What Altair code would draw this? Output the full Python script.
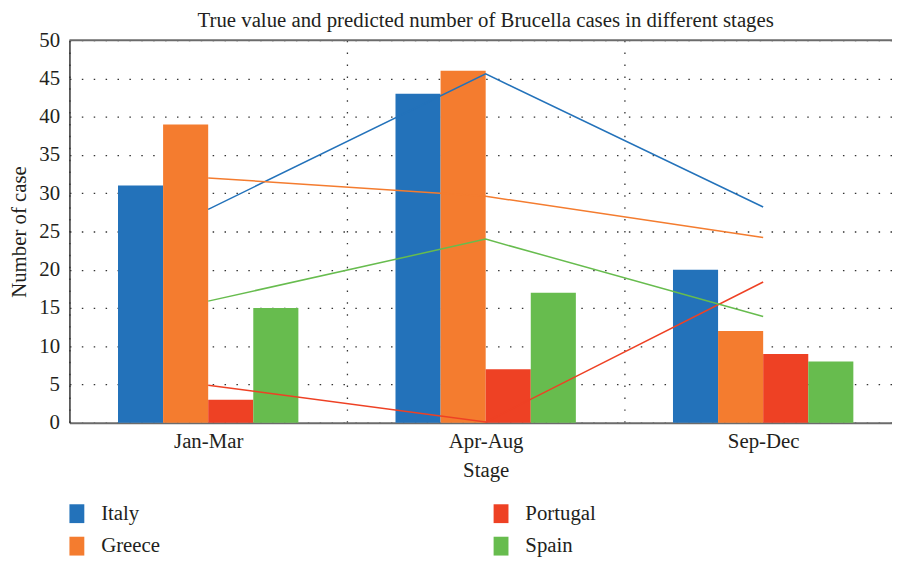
import altair as alt
import pandas as pd

stages = ["Jan-Mar", "Apr-Aug", "Sep-Dec"]
countries = ["Italy", "Greece", "Portugal", "Spain"]
colors = {"Italy": "#2372BA", "Greece": "#F47C2F", "Portugal": "#EE4124", "Spain": "#67BC4E"}

true_italy = [31, 43, 20]
true_greece = [39, 46, 12]
true_portugal = [3, 7, 9]
true_spain = [15, 17, 8]

pred_italy = [27.9, 45.6, 28.2]
pred_greece = [32.0, 29.6, 24.2]
pred_portugal = [4.9, 0.1, 18.4]
pred_spain = [15.9, 24.0, 13.9]

y_ticks = [0, 5, 10, 15, 20, 25, 30, 35, 40, 45, 50]

true_vals = {"Italy": true_italy, "Greece": true_greece, "Portugal": true_portugal, "Spain": true_spain}
pred_vals = {"Italy": pred_italy, "Greece": pred_greece, "Portugal": pred_portugal, "Spain": pred_spain}

rows = []
for c in countries:
    for i, s in enumerate(stages):
        rows.append({"stage": s, "country": c, "true": true_vals[c][i], "pred": pred_vals[c][i]})
df = pd.DataFrame(rows)

FONT = "Liberation Serif"
TXT = "#231F20"
FS = 21

x_enc = alt.X(
    "stage:N", sort=stages, title="Stage",
    scale=alt.Scale(range=[0, 840], paddingInner=0, paddingOuter=0),
    axis=alt.Axis(
        grid=True, tickBand="extent", gridDash=[1.5, 10.5], gridColor="#333", gridWidth=1.3,
        ticks=False, domainColor="#6b6b6b", domainWidth=2, labelAngle=0,
        labelFont=FONT, labelFontSize=FS, labelColor=TXT, labelPadding=8,
        titleFont=FONT, titleFontSize=FS, titleFontWeight="normal", titleColor=TXT, titlePadding=8,
    ),
)
y_scale = alt.Scale(domain=[0, 50], nice=False)
y_axis = alt.Axis(
    values=y_ticks, grid=True, gridDash=[1.5, 10.5], labelOverlap=False,
    gridColor="#333", gridWidth=1.3, ticks=False, domainColor="#333", domainWidth=1.5,
    labelFont=FONT, labelFontSize=FS, labelColor=TXT, labelPadding=10,
    titleFont=FONT, titleFontSize=FS, titleFontWeight="normal", titleColor=TXT, titlePadding=9,
)
color_scale = alt.Scale(domain=countries, range=[colors[c] for c in countries])

bars = alt.Chart(df).mark_bar().encode(
    x=x_enc,
    xOffset=alt.XOffset("country:N", sort=countries, scale=alt.Scale(range=[49, 231], paddingInner=0, paddingOuter=0)),
    y=alt.Y("true:Q", scale=y_scale, axis=y_axis, title="Number of case"),
    color=alt.Color(
        "country:N", scale=color_scale,
        legend=alt.Legend(
            title=None, orient="none", legendX=-3, legendY=467, columns=2, columnPadding=333,
            rowPadding=11, symbolType="M-0.79,-1H0.79V1H-0.79Z", symbolSize=361,
            symbolStrokeWidth=0, symbolOpacity=1, labelFont=FONT, labelFontSize=FS,
            labelColor=TXT, labelOffset=14,
        ),
    ),
)

lines = alt.Chart(df).mark_line(strokeWidth=1.5).encode(
    x=alt.X("stage:N", sort=stages),
    y=alt.Y("pred:Q", scale=y_scale, axis=y_axis, title="Number of case"),
    color=alt.Color("country:N", scale=color_scale, legend=None),
    detail="country:N",
)

top = alt.Chart(pd.DataFrame({"v": [50]})).mark_rule(color="#6b6b6b", strokeWidth=2).encode(
    y=alt.Y("v:Q", scale=y_scale, axis=y_axis, title="Number of case")
)

chart = alt.layer(bars, lines, top).properties(
    width=830, height=386,
    title=alt.TitleParams(
        "True value and predicted number of Brucella cases in different stages",
        font=FONT, fontSize=FS, fontWeight="normal", color=TXT, anchor="middle", dx=5, dy=2, offset=0,
    ),
    padding={"left": 62, "top": 30, "right": 0, "bottom": 139},
    autosize=alt.AutoSizeParams(type="none"),
).configure_view(stroke=None)

chart.save("out.html", embed_options={"renderer": "svg", "actions": False})
